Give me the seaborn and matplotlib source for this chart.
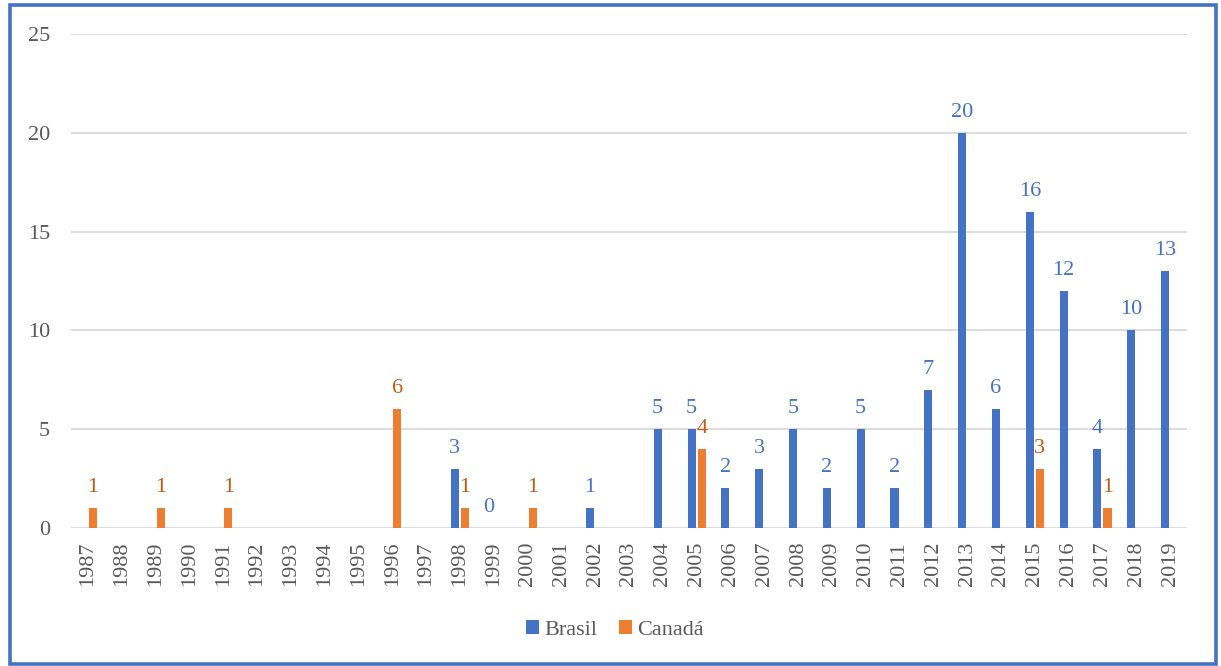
import numpy as np
import pandas as pd
import matplotlib
matplotlib.use("Agg")
import matplotlib.pyplot as plt
from matplotlib.patches import Rectangle
import seaborn as sns

# Annual counts per country
years = [str(y) for y in range(1987, 2020)]
nan = np.nan
brasil = [nan, nan, nan, nan, nan, nan, nan, nan, nan, nan, nan,
          3, 0, nan, nan, 1, nan, 5, 5, 2, 3, 5, 2, 5, 2, 7, 20, 6, 16, 12, 4, 10, 13]
canada = [1, nan, 1, nan, 1, nan, nan, nan, nan, 6, nan,
          1, nan, 1, nan, nan, nan, nan, 4, nan, nan, nan, nan, nan, nan, nan, nan, nan,
          3, nan, 1, nan, nan]
series_names = ["Brasil", "Canadá"]
bar_colors = ["#4472C4", "#ED7D31"]
label_colors = ["#4472C4", "#C55A11"]
yticks = [0, 5, 10, 15, 20, 25]

df = pd.concat([
    pd.DataFrame({"ano": years, "valor": brasil, "pais": series_names[0]}),
    pd.DataFrame({"ano": years, "valor": canada, "pais": series_names[1]}),
]).dropna(subset=["valor"])

sns.set_style("white")
plt.rcParams["font.family"] = ["Liberation Serif", "DejaVu Serif"]

W, H, DPI = 1221, 666, 100
fig = plt.figure(figsize=(W / DPI, H / DPI), dpi=DPI)
ax = fig.add_axes([71 / W, (H - 528) / H, (1187 - 71) / W, (528 - 34) / H])

sns.barplot(data=df, x="ano", y="valor", hue="pais", order=years,
            hue_order=series_names, palette=bar_colors, width=0.6, gap=0.2,
            errorbar=None, saturation=1, legend=False, linewidth=0,
            ax=ax, zorder=3)

for cont, col in zip(ax.containers, label_colors):
    ax.bar_label(cont, fmt="%d", padding=8, color=col, fontsize=16)

ax.set_ylim(0, 25)
ax.set_xlim(-0.5, len(years) - 0.5)
ax.set_yticks(yticks)
ax.yaxis.grid(True, color="#D9D9D9", linewidth=1.3, zorder=0)
ax.xaxis.grid(False)
for s in ax.spines.values():
    s.set_visible(False)
ax.set_xlabel("")
ax.set_ylabel("")
ax.tick_params(axis="y", length=0, pad=15, labelsize=16, labelcolor="#595959")
ax.tick_params(axis="x", length=0, pad=10, labelsize=16, labelcolor="#595959",
               labelrotation=90)

handles = [Rectangle((0, 0), 1, 1, color=c, linewidth=0) for c in bar_colors]
fig.legend(handles, series_names, loc="center", ncol=2, frameon=False,
           bbox_to_anchor=(615 / W, 1 - 630 / H), bbox_transform=fig.transFigure,
           fontsize=16, labelcolor="#595959", handlelength=0.55, handleheight=0.55,
           handletextpad=0.25, columnspacing=1.0)

# outer frame around the whole chart
fig.patches.append(Rectangle((9.5 / W, 2.5 / H), (1216 - 9.5) / W, (661 - 2.5) / H,
                             transform=fig.transFigure, fill=False,
                             edgecolor="#4472C4", linewidth=2.6))

fig.savefig("out.png", dpi=DPI)
